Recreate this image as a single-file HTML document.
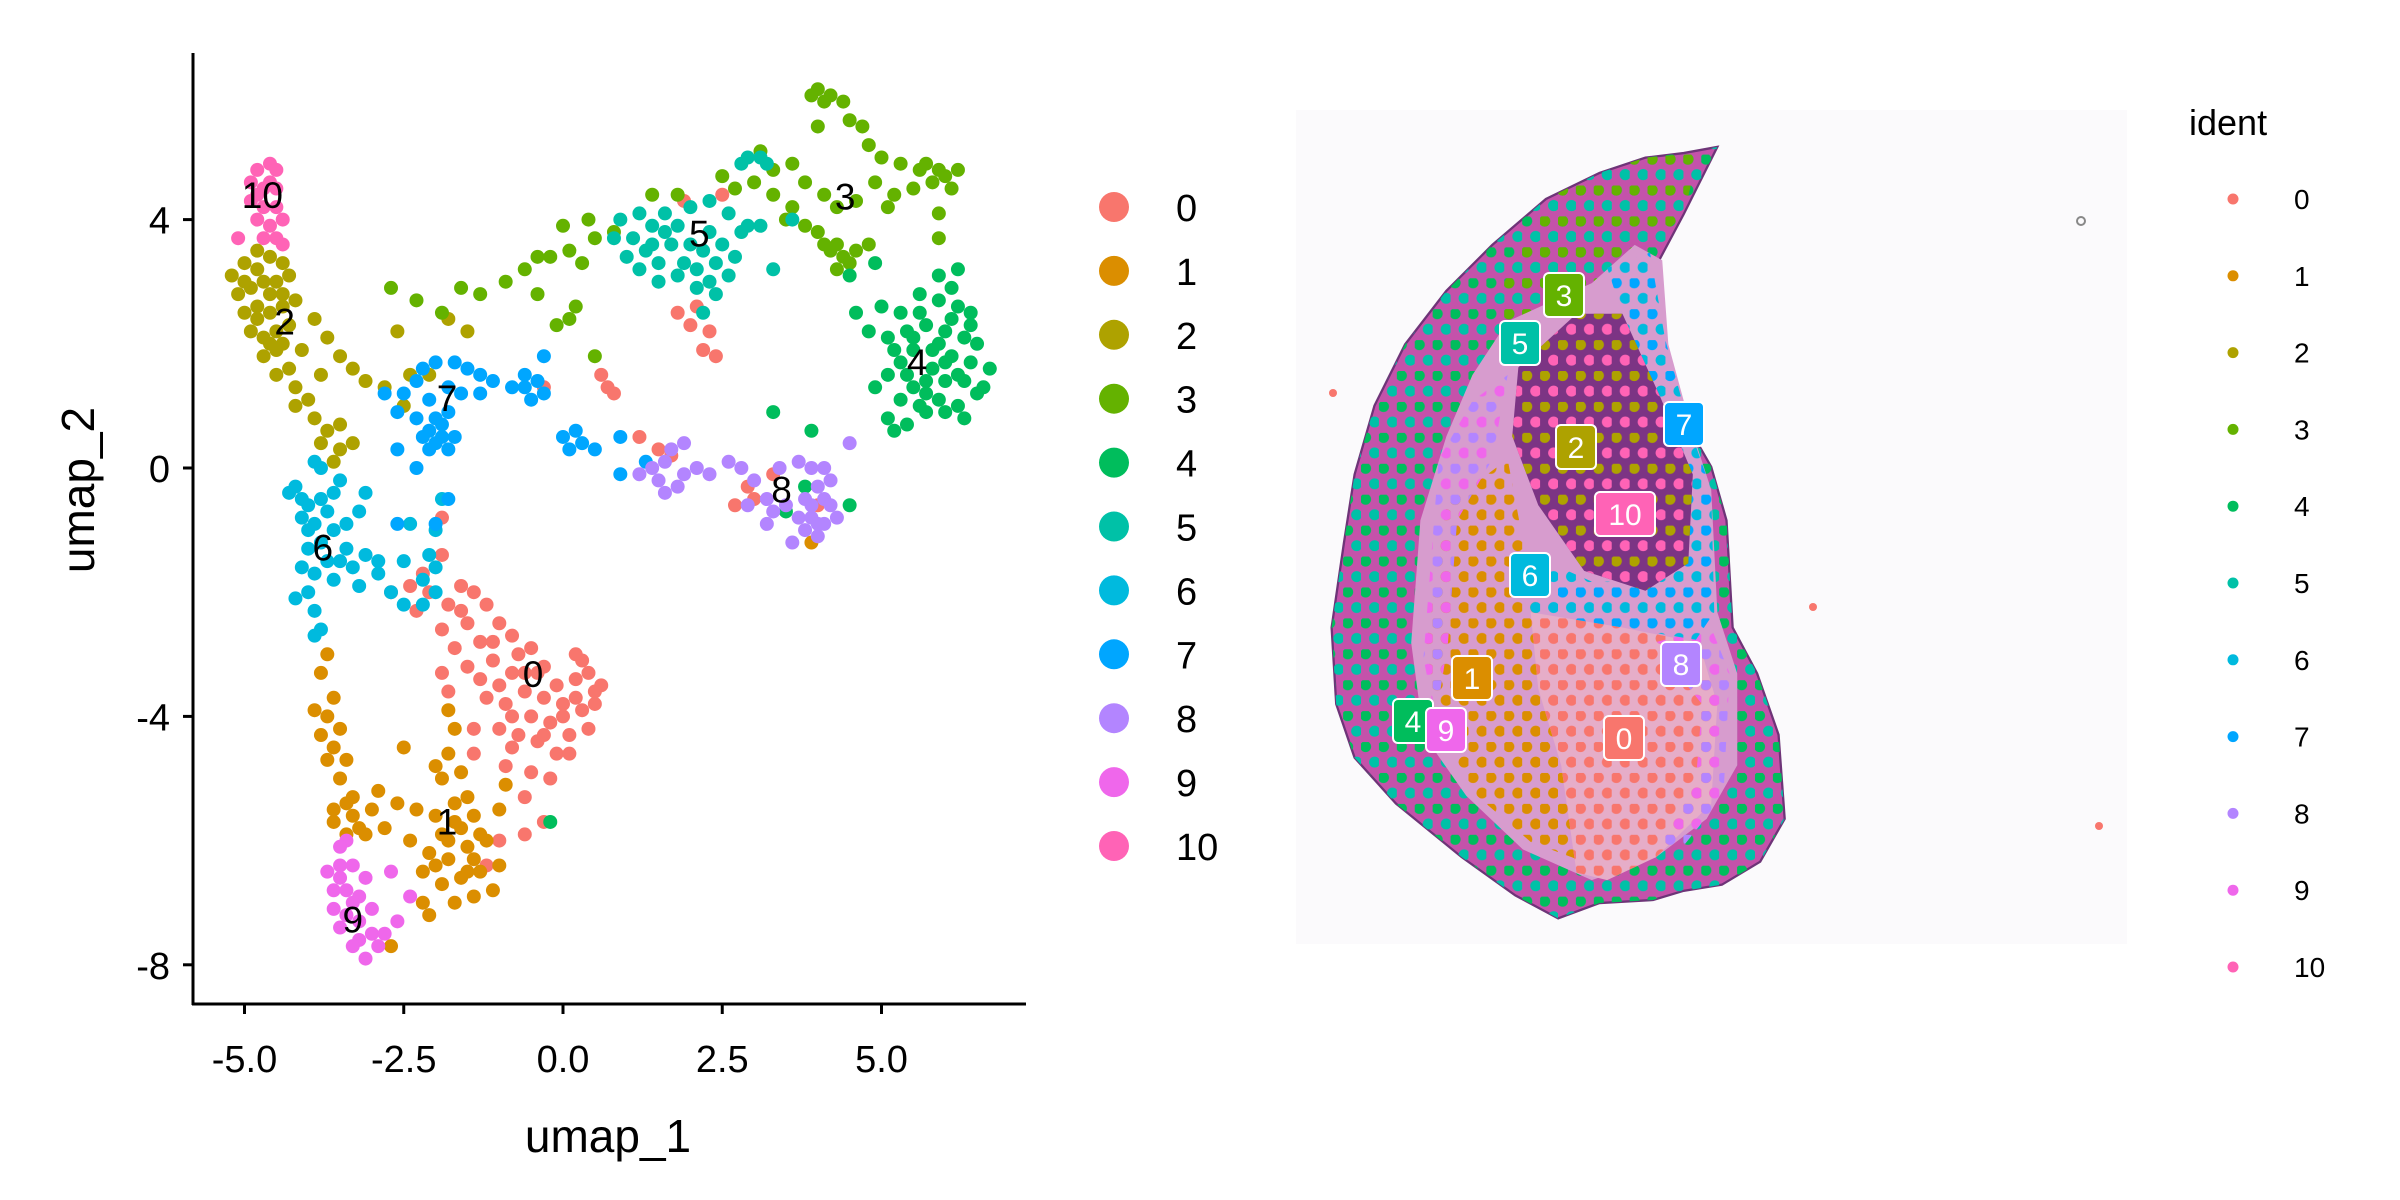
<!DOCTYPE html>
<html><head><meta charset="utf-8"><style>
html,body{margin:0;padding:0;background:#fff;}
svg{display:block;font-family:"Liberation Sans",Arial,sans-serif;}
</style></head><body>
<svg id="root" width="2400" height="1200" viewBox="0 0 2400 1200" xmlns="http://www.w3.org/2000/svg">
<defs>
  <pattern id="pRim" width="11.7" height="20.2" patternUnits="userSpaceOnUse">
    <circle cx="3" cy="3" r="3.6" fill="#00BD5C"/><circle cx="8.85" cy="13.1" r="3.6" fill="#00C1A7"/>
  </pattern>
  <pattern id="pRim3" width="11.7" height="20.2" patternUnits="userSpaceOnUse">
    <circle cx="3" cy="3" r="3.6" fill="#64B200"/><circle cx="8.85" cy="13.1" r="3.6" fill="#00C1A7"/>
  </pattern>
  <pattern id="p1" width="11.7" height="20.2" patternUnits="userSpaceOnUse">
    <circle cx="3" cy="3" r="3.6" fill="#DB8E00"/><circle cx="8.85" cy="13.1" r="3.6" fill="#DB8E00"/>
  </pattern>
  <pattern id="p0" width="11.7" height="20.2" patternUnits="userSpaceOnUse">
    <circle cx="3" cy="3" r="3.6" fill="#F8766D"/><circle cx="8.85" cy="13.1" r="3.6" fill="#F8766D"/>
  </pattern>
  <pattern id="p2" width="11.7" height="20.2" patternUnits="userSpaceOnUse">
    <circle cx="3" cy="3" r="3.6" fill="#AEA200"/><circle cx="8.85" cy="13.1" r="3.6" fill="#FF63B6"/>
  </pattern>
  <pattern id="p7" width="11.7" height="20.2" patternUnits="userSpaceOnUse">
    <circle cx="3" cy="3" r="3.6" fill="#00A6FF"/><circle cx="8.85" cy="13.1" r="3.6" fill="#00BADE"/>
  </pattern>
  <pattern id="p8" width="11.7" height="20.2" patternUnits="userSpaceOnUse">
    <circle cx="3" cy="3" r="3.6" fill="#B385FF"/><circle cx="8.85" cy="13.1" r="3.6" fill="#EF67EB"/>
  </pattern>
</defs>

<g id="umap"></g>

<g id="spatial">
  <rect x="1296" y="110" width="831" height="834" fill="#fbfafc"/>
  <g transform="scale(1.5306)">
    <path fill="#c452aa" stroke="#6e3478" stroke-width="1.5" d="M1122,96 L1100,100 L1075,103 L1045,113 L1010,130 L975,160 L945,190 L918,225 L898,265 L885,310 L878,355 L870,410 L873,460 L885,495 L912,525 L955,560 L990,585 L1018,600 L1045,590 L1080,588 L1100,582 L1125,578 L1150,563 L1166,535 L1162,480 L1148,440 L1132,410 L1128,340 L1118,305 L1098,270 L1086,220 L1084,170 L1100,140 Z"/>
    <path fill="url(#pRim)" d="M1122,96 L1100,100 L1075,103 L1045,113 L1010,130 L975,160 L945,190 L918,225 L898,265 L885,310 L878,355 L870,410 L873,460 L885,495 L912,525 L955,560 L990,585 L1018,600 L1045,590 L1080,588 L1100,582 L1125,578 L1150,563 L1166,535 L1162,480 L1148,440 L1132,410 L1128,340 L1118,305 L1098,270 L1086,220 L1084,170 L1100,140 Z"/>
    <path fill="url(#pRim3)" d="M1010,130 L1045,113 L1075,103 L1110,100 L1100,140 L1080,160 L1060,175 L1040,185 L1010,200 L990,215 L975,200 Z"/>
    <path fill="#d79cce" d="M985,210 L1040,185 L1068,160 L1086,170 L1090,225 L1105,280 L1118,320 L1122,400 L1135,440 L1135,500 L1115,535 L1082,560 L1040,575 L995,555 L958,520 L930,480 L922,420 L928,340 L945,285 L962,245 Z"/>
    <path fill="url(#p1)" d="M945,330 L985,300 L1000,380 L1010,420 L1030,470 L1040,565 L1000,550 L965,520 L940,480 L932,420 Z"/>
    <path fill="#e6adc8" d="M1000,400 L1060,410 L1110,420 L1122,460 L1118,525 L1082,560 L1050,575 L1030,570 L1020,500 L1005,450 Z"/>
    <path fill="url(#p0)" d="M1000,400 L1060,410 L1110,420 L1122,460 L1118,525 L1082,560 L1050,575 L1030,570 L1020,500 L1005,450 Z"/>
    <path fill="url(#p8)" d="M1080,420 L1118,410 L1130,440 L1126,520 L1098,555 L1085,550 L1108,510 L1112,460 Z"/>
    <path fill="url(#p8)" d="M940,300 L962,262 L985,245 L975,300 L952,340 L946,420 L938,470 L930,430 Z"/>
    <path fill="url(#p7)" d="M1050,175 L1078,165 L1088,222 L1104,280 L1118,320 L1120,400 L1108,418 L1060,410 L1000,400 L995,360 L1040,380 L1080,380 L1095,330 L1075,250 Z"/>
    <path fill="#7c3484" d="M992,240 L1030,205 L1060,205 L1085,260 L1106,310 L1103,368 L1075,386 L1035,373 L1005,330 L988,285 Z"/>
    <path fill="url(#p2)" d="M992,240 L1030,205 L1060,205 L1085,260 L1106,310 L1103,368 L1075,386 L1035,373 L1005,330 L988,285 Z"/>
  </g>
  <circle cx="1333" cy="393" r="4" fill="#F8766D"/><circle cx="1813" cy="607" r="4" fill="#F8766D"/><circle cx="2099" cy="826" r="4" fill="#F8766D"/>
  <circle cx="2081" cy="221" r="4" fill="none" stroke="#888" stroke-width="2"/>
  <g id="spotLabels"></g>
  <g id="legend2"></g>
</g>
</svg>
<script>
const clusterColors = ["#F8766D","#DB8E00","#AEA200","#64B200","#00BD5C","#00C1A7","#00BADE","#00A6FF","#B385FF","#EF67EB","#FF63B6"];
const clusterNames = ["0","1","2","3","4","5","6","7","8","9","10"];
const xTicks = [-5,-2.5,0,2.5,5];
const xTickLabels = ["-5.0","-2.5","0.0","2.5","5.0"];
const yTicks = [4,0,-4,-8];
const yTickLabels = ["4","0","-4","-8"];
const c0 = [[-2.4,-1.9],[-2.1,-2.0],[-1.8,-2.2],[-1.6,-1.9],[-1.4,-2.0],[-1.2,-2.2],[-1.5,-2.5],[-1.0,-2.5],[-0.8,-2.7],[-1.3,-2.8],[-1.7,-2.9],[-1.9,-3.3],[-1.5,-3.2],[-1.1,-3.1],[-0.7,-3.0],[-0.4,-3.3],[-0.1,-3.5],[0.2,-3.4],[0.4,-3.3],[0.6,-3.5],[0.5,-3.8],[0.3,-3.9],[0.0,-3.8],[-0.3,-3.7],[-0.6,-3.6],[-0.9,-3.8],[-1.2,-3.7],[-0.5,-4.0],[-0.2,-4.1],[0.1,-4.3],[0.4,-4.2],[-0.1,-4.6],[-0.4,-4.4],[-0.7,-4.3],[-0.9,-4.8],[-0.5,-4.9],[-0.2,-5.0],[-0.6,-5.3],[-1.2,-6.4],[-1.0,-6.0],[-0.6,-5.9],[-0.3,-5.7],[-1.9,-2.6],[-2.7,-2.0],[-2.2,-1.7],[-1.9,-1.4],[-1.9,-0.8],[-0.5,-2.9],[0.3,-3.1],[-1.8,-3.6],[-1.4,-4.2],[-1.0,-4.2],[0.0,-4.0],[-0.8,-3.3],[2.7,-0.6],[3.0,-0.5],[2.9,-0.3],[1.2,0.5],[1.5,0.3],[1.7,0.2],[0.6,1.5],[0.7,1.3],[0.8,1.2],[2.1,2.6],[2.3,2.2],[2.2,1.9],[2.4,1.8],[1.8,2.5],[2.0,2.3],[-0.3,1.3],[3.3,-0.1],[4.0,-0.6],[2.5,4.4],[1.9,4.3],[0.2,-3.0],[-0.3,-3.2],[0.1,-4.6],[-0.8,-4.0],[-1.6,-2.3],[-1.1,-2.8],[-0.6,-3.3],[-0.3,-4.3],[0.2,-3.7],[-1.3,-3.4],[-1.0,-3.5],[-0.8,-4.5],[0.5,-3.6],[-2.3,-2.3],[-1.4,-4.6]];
const c1 = [[-3.7,-3.0],[-3.8,-3.3],[-3.6,-3.7],[-3.7,-4.0],[-3.5,-4.2],[-3.6,-4.5],[-3.4,-4.7],[-3.7,-4.7],[-3.5,-5.0],[-3.3,-5.3],[-3.6,-5.5],[-3.3,-5.6],[-3.0,-5.5],[-3.1,-5.9],[-3.4,-5.9],[-3.6,-5.7],[-2.8,-5.8],[-2.6,-5.4],[-2.3,-5.5],[-2.4,-6.0],[-2.1,-6.2],[-1.8,-6.3],[-1.5,-6.1],[-1.2,-6.0],[-1.4,-5.6],[-1.7,-5.4],[-2.0,-5.6],[-1.9,-5.0],[-1.6,-4.9],[-1.8,-4.6],[-1.7,-4.2],[-1.8,-3.9],[-2.0,-4.8],[-1.5,-5.3],[-1.3,-6.5],[-1.6,-6.6],[-1.9,-6.7],[-2.2,-7.0],[-2.1,-7.2],[-1.0,-6.4],[-1.0,-5.5],[-0.9,-5.1],[-2.5,-4.5],[-2.9,-5.2],[-3.9,-3.9],[-3.8,-4.3],[-2.7,-7.7],[-1.4,-6.9],[-1.1,-6.8],[-1.7,-7.0],[3.9,-1.2],[-1.9,-5.9],[-1.6,-5.8],[-2.2,-6.5],[-1.4,-6.3],[-1.8,-6.0],[-1.5,-6.5],[-2.0,-6.4],[-1.7,-5.7],[-1.3,-5.9],[-3.4,-5.4],[-3.2,-5.8]];
const c2 = [[-5.2,3.1],[-5.0,3.3],[-4.8,3.5],[-4.6,3.4],[-4.4,3.3],[-5.1,2.8],[-4.9,2.9],[-4.7,3.0],[-4.5,3.0],[-4.3,3.1],[-5.0,2.5],[-4.8,2.6],[-4.6,2.5],[-4.4,2.6],[-4.2,2.7],[-4.9,2.2],[-4.7,2.1],[-4.5,2.2],[-4.3,2.3],[-4.7,1.8],[-4.5,1.9],[-4.3,1.6],[-4.5,1.5],[-4.2,1.3],[-4.0,1.1],[-3.9,0.8],[-3.7,0.6],[-3.8,0.4],[-3.5,0.7],[-3.5,0.3],[-3.6,0.1],[-3.3,0.4],[-3.9,2.4],[-3.7,2.1],[-3.5,1.8],[-3.3,1.6],[-3.1,1.4],[-2.8,1.3],[-2.5,1.0],[-2.4,1.5],[-1.8,2.4],[-1.5,2.2],[-2.6,2.2],[-2.1,1.5],[-4.1,1.9],[-3.8,1.5],[-5.0,3.0],[-4.4,2.0],[-4.8,3.2],[-4.6,2.8],[-4.4,2.8],[-4.8,2.4],[-4.6,2.0],[-4.2,1.0]];
const c3 = [[-2.7,2.9],[-2.3,2.7],[-1.9,2.5],[-1.6,2.9],[-1.3,2.8],[-0.9,3.0],[-0.6,3.2],[-0.2,3.4],[0.1,3.5],[0.3,3.3],[0.5,3.7],[0.8,3.8],[-0.4,2.8],[-0.1,2.3],[0.1,2.4],[0.2,2.6],[0.5,1.8],[1.4,4.4],[1.8,4.4],[2.5,4.7],[2.7,4.5],[3.0,4.6],[3.3,4.4],[3.6,4.2],[3.8,4.6],[3.6,4.9],[3.3,4.8],[3.1,5.1],[4.0,5.5],[3.9,6.0],[4.0,6.1],[4.2,6.0],[4.4,5.9],[4.5,5.6],[4.7,5.5],[4.8,5.2],[5.0,5.0],[5.3,4.9],[5.6,4.8],[5.9,4.8],[6.2,4.8],[6.1,4.5],[5.8,4.6],[5.5,4.5],[5.2,4.4],[4.9,4.6],[4.6,4.3],[4.3,4.2],[4.1,4.4],[4.0,3.8],[4.2,3.5],[4.4,3.4],[4.6,3.5],[4.8,3.6],[4.3,3.2],[4.1,3.6],[3.8,3.9],[3.5,4.0],[5.1,4.2],[5.9,4.1],[5.9,3.7],[0.0,3.9],[0.4,4.0],[-0.4,3.4],[4.1,5.9],[4.3,3.6],[4.5,3.3],[6.0,4.7],[5.7,4.9]];
const c4 = [[5.0,2.6],[5.3,2.5],[5.6,2.8],[5.9,2.7],[6.2,2.6],[6.4,2.5],[5.4,2.2],[5.7,2.3],[6.0,2.2],[6.3,2.1],[6.5,2.0],[5.2,1.9],[5.5,1.9],[5.8,1.9],[6.1,1.8],[6.4,1.7],[6.7,1.6],[5.1,1.5],[5.4,1.5],[5.7,1.4],[6.0,1.4],[6.3,1.4],[6.6,1.3],[5.3,1.1],[5.6,1.0],[5.9,1.1],[6.2,1.0],[6.5,1.2],[5.1,0.8],[5.4,0.7],[5.7,0.9],[6.0,0.9],[6.3,0.8],[4.9,1.3],[4.8,2.2],[5.6,2.5],[6.1,2.4],[5.8,1.6],[5.2,0.6],[6.2,3.2],[5.9,3.1],[4.5,3.1],[4.9,3.3],[3.3,0.9],[3.9,0.6],[4.5,-0.6],[3.8,-0.3],[3.5,-0.7],[-0.2,-5.7],[4.6,2.5],[5.5,2.1],[6.0,1.7],[5.3,1.7],[6.4,2.3],[5.5,1.3],[5.9,2.0],[6.2,1.5],[5.1,2.1],[5.7,1.2],[6.1,2.9]];
const c5 = [[0.9,4.0],[1.2,4.1],[1.4,3.9],[1.6,4.1],[1.8,3.9],[1.1,3.7],[1.3,3.5],[1.5,3.3],[1.7,3.6],[1.9,3.3],[2.1,3.2],[2.3,3.0],[2.2,3.5],[2.4,3.3],[2.6,3.1],[2.5,3.6],[2.8,3.8],[2.7,3.4],[2.4,2.8],[2.1,2.9],[1.8,3.1],[1.5,3.0],[1.2,3.2],[2.0,4.2],[2.3,4.3],[2.6,4.1],[2.9,3.9],[3.1,3.9],[2.9,5.0],[3.1,5.0],[3.2,4.9],[2.8,4.9],[3.6,4.0],[3.3,3.2],[1.0,3.4],[0.8,3.7],[2.2,2.5],[1.6,3.8],[2.0,3.6],[2.3,3.8],[1.4,3.6]];
const c6 = [[-3.9,0.1],[-3.8,0.0],[-3.5,-0.2],[-4.2,-0.3],[-4.1,-0.5],[-4.0,-0.6],[-3.8,-0.5],[-3.7,-0.7],[-3.9,-0.9],[-4.1,-0.8],[-3.6,-1.0],[-3.4,-0.9],[-3.2,-0.7],[-3.4,-1.3],[-3.1,-1.4],[-2.9,-1.5],[-3.7,-1.5],[-4.0,-1.3],[-4.1,-1.6],[-3.9,-1.7],[-3.6,-1.8],[-3.2,-1.9],[-4.0,-2.0],[-4.2,-2.1],[-3.9,-2.3],[-3.8,-2.6],[-3.9,-2.7],[-2.7,-2.0],[-2.5,-2.2],[-2.2,-1.8],[-2.0,-2.0],[-2.2,-2.2],[-2.0,-1.6],[-2.5,-1.5],[-2.1,-1.4],[-2.4,-0.9],[-2.0,-1.0],[-1.9,-0.5],[-3.1,-0.4],[-2.9,-1.7],[-4.3,-0.4],[-3.5,-1.5],[-3.8,-1.2],[-3.6,-0.4],[-4.0,-1.0],[-3.3,-1.6]];
const c7 = [[-2.8,1.2],[-2.5,1.2],[-2.3,1.4],[-2.2,1.6],[-2.0,1.7],[-1.7,1.7],[-1.5,1.6],[-1.3,1.5],[-1.1,1.4],[-1.3,1.2],[-1.6,1.2],[-1.8,1.3],[-2.1,1.1],[-1.8,0.9],[-2.0,0.8],[-2.3,0.8],[-2.1,0.6],[-1.9,0.5],[-1.7,0.5],[-2.1,0.3],[-1.8,0.3],[-2.6,0.3],[-2.3,0.0],[-2.6,0.9],[-0.4,1.4],[-0.6,1.3],[-0.5,1.1],[-0.3,1.2],[-0.8,1.3],[-0.3,1.8],[-0.6,1.5],[0.0,0.5],[0.1,0.3],[0.3,0.4],[0.5,0.3],[0.2,0.6],[0.9,0.5],[0.9,-0.1],[1.3,0.1],[-1.8,-0.5],[-2.0,-0.9],[-2.6,-0.9],[-2.0,0.4],[-1.9,0.7],[-2.2,0.5]];
const c8 = [[1.2,-0.1],[1.4,0.0],[1.6,0.1],[1.7,0.3],[1.5,-0.2],[1.8,-0.3],[1.9,-0.1],[2.1,0.0],[1.9,0.4],[1.6,-0.4],[2.6,0.1],[2.8,0.0],[3.0,-0.2],[2.9,-0.6],[3.2,-0.5],[3.3,-0.7],[3.5,-0.6],[3.4,0.0],[3.7,0.1],[3.9,0.0],[4.1,0.0],[4.2,-0.2],[4.0,-0.3],[3.8,-0.5],[4.1,-0.5],[3.7,-0.8],[3.9,-0.8],[4.1,-0.9],[4.3,-0.8],[3.8,-1.0],[4.0,-1.1],[3.6,-1.2],[4.5,0.4],[3.2,-0.9],[4.2,-0.6],[2.3,-0.1],[3.9,-0.6],[4.0,-0.9]];
const c9 = [[-3.7,-6.5],[-3.5,-6.4],[-3.3,-6.4],[-3.1,-6.6],[-3.6,-6.8],[-3.4,-6.8],[-3.2,-6.9],[-3.6,-7.1],[-3.4,-7.2],[-3.2,-7.3],[-3.0,-7.1],[-3.5,-7.4],[-3.2,-7.6],[-3.0,-7.5],[-2.8,-7.5],[-2.6,-7.3],[-3.1,-7.9],[-2.9,-7.7],[-3.3,-7.7],[-2.7,-6.5],[-3.4,-6.0],[-3.5,-6.1],[-2.4,-6.9],[-3.5,-6.6],[-3.3,-7.0]];
const c10 = [[-4.9,4.6],[-4.8,4.8],[-4.6,4.9],[-4.5,4.8],[-4.7,4.5],[-4.5,4.5],[-4.9,4.3],[-4.7,4.2],[-4.5,4.2],[-4.8,4.0],[-4.6,3.9],[-4.4,4.0],[-4.5,3.7],[-4.7,3.7],[-5.1,3.7],[-4.4,3.6],[-4.6,4.6],[-4.8,4.4]];
const clusterLabelPos = [[-0.47,-3.32],[-1.82,-5.69],[-4.37,2.36],[4.43,4.37],[5.56,1.71],[2.14,3.78],[-3.77,-1.28],[-1.82,1.13],[3.43,-0.35],[-3.30,-7.27],[-4.72,4.40]];
const spotLabelPos = [[1624,738],[1472,678],[1576,447],[1564,295],[1413,721],[1520,343],[1530,575],[1684,424],[1681,664],[1446,730],[1625,514]];

const NS = "http://www.w3.org/2000/svg";
function mk(tag, attrs, parent){ const e=document.createElementNS(NS,tag); for(const k in attrs) e.setAttribute(k,attrs[k]); parent.appendChild(e); return e; }
const xScale = v => 563 + v*63.7;
const yScale = v => 468 - v*62.1;
const umap = document.getElementById('umap');

const pts = [c0,c1,c2,c3,c4,c5,c6,c7,c8,c9,c10];
const ptsG = mk('g',{},umap);


pts.forEach((arr,ci)=>{
  arr.forEach(p=>{
    const c = mk('circle',{cx:xScale(p[0]),cy:yScale(p[1]),r:7,fill:clusterColors[ci]},ptsG);
    
    
  });
});
const ax = mk('line',{x1:193,y1:53,x2:193,y2:1005,stroke:'#000','stroke-width':3},umap);


const axx = mk('line',{x1:192,y1:1004,x2:1026,y2:1004,stroke:'#000','stroke-width':3},umap);


xTicks.forEach((t,i)=>{
  const x=xScale(t);
  mk('line',{x1:x,y1:1004,x2:x,y2:1014,stroke:'#000','stroke-width':3},umap);
  const tx=mk('text',{x:x,y:1072,'font-size':38,'text-anchor':'middle',fill:'#000'},umap);
  tx.textContent=xTickLabels[i];
  
  
});
yTicks.forEach((t,i)=>{
  const y=yScale(t);
  mk('line',{x1:183,y1:y,x2:193,y2:y,stroke:'#000','stroke-width':3},umap);
  const tx=mk('text',{x:170,y:y+14,'font-size':38,'text-anchor':'end',fill:'#000'},umap);
  tx.textContent=yTickLabels[i];
  
  
});
const xt=mk('text',{x:608,y:1152,'font-size':46,'text-anchor':'middle'},umap);
xt.textContent='umap_1';


const yt=mk('text',{x:0,y:0,'font-size':46,'text-anchor':'middle',transform:'translate(94,490) rotate(-90)'},umap);
yt.textContent='umap_2';


clusterLabelPos.forEach((p,i)=>{
  const t=mk('text',{x:xScale(p[0]),y:yScale(p[1])+13,'font-size':37,'text-anchor':'middle',fill:'#000'},umap);
  t.textContent=clusterNames[i];
  
  
});
const lg=mk('g',{},umap);


clusterNames.forEach((n,i)=>{
  const y=207+i*63.9;
  const c=mk('circle',{cx:1114,cy:y,r:15,fill:clusterColors[i]},lg);
  
  
  const t=mk('text',{x:1176,y:y+14,'font-size':38},lg);
  t.textContent=n;
  
  
});
const sl=document.getElementById('spotLabels');
spotLabelPos.forEach((p,i)=>{
  const w = clusterNames[i].length>1?60:40;
  const r=mk('rect',{x:p[0]-w/2,y:p[1]-22,width:w,height:44,rx:5,fill:clusterColors[i],stroke:'#fff','stroke-width':2},sl);
  
  
  const t=mk('text',{x:p[0],y:p[1]+11,'font-size':30,'text-anchor':'middle',fill:'#fff'},sl);
  t.textContent=clusterNames[i];
  
  
});
const lg2=document.getElementById('legend2');
const it=mk('text',{x:2189,y:135,'font-size':36},lg2);
it.textContent='ident';


clusterNames.forEach((n,i)=>{
  const y=199+i*76.8;
  const c=mk('circle',{cx:2233,cy:y,r:5.5,fill:clusterColors[i]},lg2);
  
  
  const t=mk('text',{x:2294,y:y+10,'font-size':28},lg2);
  t.textContent=n;
  
  
});
</script>
</body></html>
